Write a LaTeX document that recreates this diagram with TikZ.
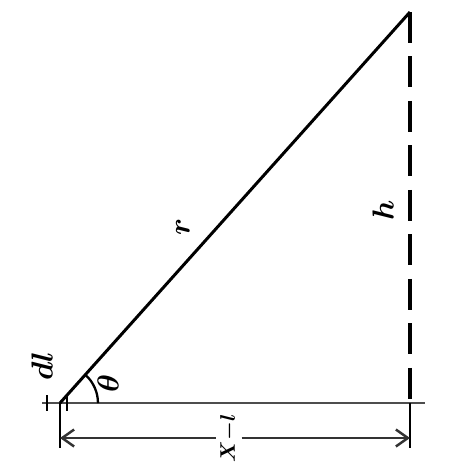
\documentclass[tikz,border=0pt]{standalone}
\usepackage{amsmath}
\usepackage{tikz}
\usetikzlibrary{arrows.meta}
\definecolor{inkgray}{HTML}{4D4D4D}

\begin{document}
\begin{tikzpicture}[x=0.02cm, y=-0.02cm, every node/.style={font=\LARGE\boldmath},
  mainline/.style={black, line width=1.7pt},
  groundline/.style={inkgray, line width=1.2pt},
  heightline/.style={black, line width=2.4pt, dash pattern=on 0.62cm off 0.27cm},
  dimline/.style={black!80, line width=1.2pt}]
  \useasboundingbox (0,0) rectangle (466,467);
  \coordinate (A) at (60.0000,403.0000);
  \coordinate (B) at (410.0000,12.0000);
  \coordinate (C) at (410.0000,403.0000);
  \coordinate (G1) at (42.0000,403.0000);
  \coordinate (G2) at (425.0000,403.0000);
  \coordinate (extL) at (60.0000,448.0000);
  \coordinate (extR) at (410.0000,448.0000);
  \coordinate (dimL) at (60.0000,438.0000);
  \coordinate (dimR) at (410.0000,438.0000);

  \draw[groundline] (G1) -- (G2);
  \draw[mainline] (A) -- (B);
  \draw[heightline] (B) -- (C);
  \draw[mainline] (C) -- (extR);
  \draw[mainline, line width=1.3pt] (A) -- (extL);

  % small element dl
  \draw[black, line width=1.4pt] (47,395) -- (47,411);
  \draw[black, line width=1.4pt] (67,395) -- (67,411);
  \draw[black, line width=1.3pt] (85.3,374.7) arc[start angle=-48.2, end angle=0, radius=38];

  \node[rotate=90, font=\large\boldmath, inner sep=2pt] (xl) at (229,438) {$X{-}l$};
  \draw[dimline, {Straight Barb[length=2.4mm, width=3.4mm, line width=1.4pt]}-] (dimL) -- (xl);
  \draw[dimline, -{Straight Barb[length=2.4mm, width=3.4mm, line width=1.4pt]}] (xl) -- (dimR);

  \node[rotate=90] (rlab) at (183,227) {$r$};
  \node[rotate=90] (hlab) at (383,210) {$h$};
  \node[rotate=90] (thlab) at (108,383) {$\theta$};
  \node[rotate=90] (dllab) at (42,366) {$dl$};
\end{tikzpicture}
\end{document}
